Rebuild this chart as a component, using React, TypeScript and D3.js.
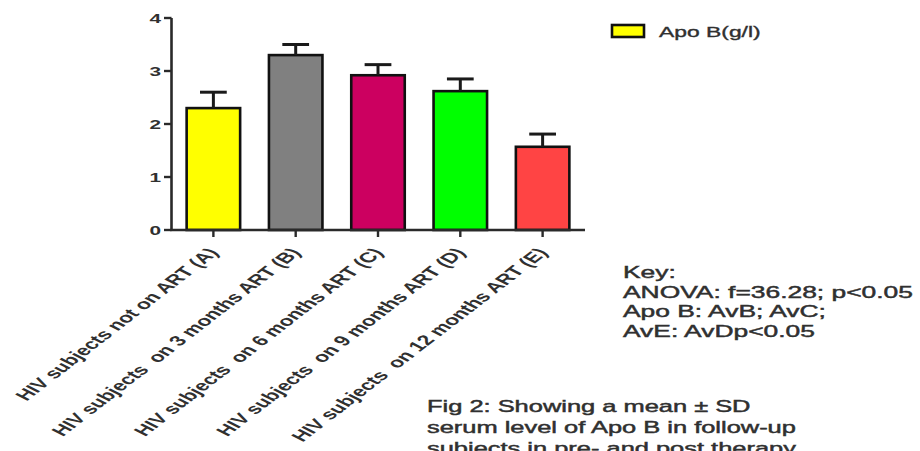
import React from "react";
import * as d3 from "d3";

// Apo B (g/l) by treatment group, mean ± SD
const categories = [
  "HIV subjects not on ART (A)",
  "HIV subjects  on 3 months ART (B)",
  "HIV subjects  on 6 months ART (C)",
  "HIV subjects  on 9 months ART (D)",
  "HIV subjects  on 12 months ART (E)",
];
const means = [2.3, 3.3, 2.92, 2.62, 1.57];
const sds = [0.3, 0.2, 0.2, 0.23, 0.24];
const barColors = ["#FFFF00", "#808080", "#CC0060", "#00FF00", "#FF4444"];
const yTicks = [0, 1, 2, 3, 4];
const legendLabel = "Apo B(g/l)";
const keyLines = [
  "Key:",
  "ANOVA: f=36.28; p<0.05",
  "Apo B: AvB; AvC;",
  "AvE: AvDp<0.05",
];
const captionLines = [
  "Fig 2: Showing a mean \u00B1 SD",
  "serum level of Apo B in follow-up",
  "subjects in pre- and post therapy",
];

const W = 920;
const H = 451;
const SX = 1.6; // horizontal text stretch
const FONT = "'Liberation Sans', Arial, sans-serif";
const AXIS = "#2a2a2a";
const TEXT = "#303030";

export default function App() {
  const y = d3.scaleLinear().domain([0, 4]).range([230, 18]);
  const x = d3
    .scaleBand<string>()
    .domain(categories)
    .range([171, 585])
    .paddingInner(0.35)
    .paddingOuter(0.19);
  const bw = x.bandwidth();
  const labelAngle = (Math.atan(0.77 * SX) * 180) / Math.PI;

  return (
    <svg
      width={W}
      height={H}
      style={{ position: "absolute", left: 0, top: 0, background: "#fff" }}
      fontFamily={FONT}
    >
      {/* bars */}
      {categories.map((c, i) => (
        <rect
          key={c}
          x={x(c)!}
          y={y(means[i])}
          width={bw}
          height={y(0) - y(means[i])}
          fill={barColors[i]}
          stroke="#111"
          strokeWidth={2.6}
        />
      ))}
      {/* error bars (upper SD) */}
      {categories.map((c, i) => {
        const cx = x(c)! + bw / 2;
        const top = y(means[i] + sds[i]);
        return (
          <g key={c} stroke="#1a1a1a" strokeWidth={3}>
            <line x1={cx} x2={cx} y1={y(means[i])} y2={top} />
            <line x1={cx - bw / 4} x2={cx + bw / 4} y1={top} y2={top} />
          </g>
        );
      })}
      {/* y axis */}
      <line x1={171.5} x2={171.5} y1={y(4)} y2={y(0)} stroke={AXIS} strokeWidth={2.6} />
      {yTicks.map((t) => (
        <g key={t}>
          <line x1={164} x2={171.5} y1={y(t)} y2={y(t)} stroke={AXIS} strokeWidth={2.4} />
          <text
            transform={`translate(161,${y(t) + 4.6}) scale(${SX},1)`}
            textAnchor="end"
            fontSize={13}
            fontWeight="bold"
            fill={TEXT}
          >
            {t}
          </text>
        </g>
      ))}
      {/* x axis */}
      <line x1={170.2} x2={585} y1={y(0)} y2={y(0)} stroke={AXIS} strokeWidth={2.6} />
      {categories.map((c) => {
        const cx = x(c)! + bw / 2;
        return (
          <g key={c}>
            <line x1={cx} x2={cx} y1={y(0)} y2={y(0) + 7} stroke={AXIS} strokeWidth={2.4} />
            <text
              transform={`translate(${cx + 6},${y(0) + 23}) scale(${SX},1) rotate(${-labelAngle})`}
              textAnchor="end"
              fontSize={14.4}
              fontWeight="bold"
              fill={TEXT}
              style={{ whiteSpace: "pre" }}
            >
              {c}
            </text>
          </g>
        );
      })}
      {/* legend */}
      <rect x={612} y={25} width={32} height={12} fill={barColors[0]} stroke="#111" strokeWidth={2.6} />
      <text
        transform={`translate(659,37) scale(${SX},1)`}
        fontSize={14.3}
        fill={TEXT}
        stroke={TEXT}
        strokeWidth={0.35}
      >
        {legendLabel}
      </text>
      {/* key */}
      {keyLines.map((l, i) => (
        <text
          key={l}
          transform={`translate(623,${278 + i * 19.5}) scale(${SX},1)`}
          fontSize={16.5}
          fill={TEXT}
          stroke={TEXT}
          strokeWidth={0.45}
        >
          {l}
        </text>
      ))}
      {/* caption */}
      {captionLines.map((l, i) => (
        <text
          key={l}
          transform={`translate(427,${411.5 + i * 21}) scale(${SX},1)`}
          fontSize={15.9}
          fill={TEXT}
          stroke={TEXT}
          strokeWidth={0.45}
        >
          {l}
        </text>
      ))}
    </svg>
  );
}
